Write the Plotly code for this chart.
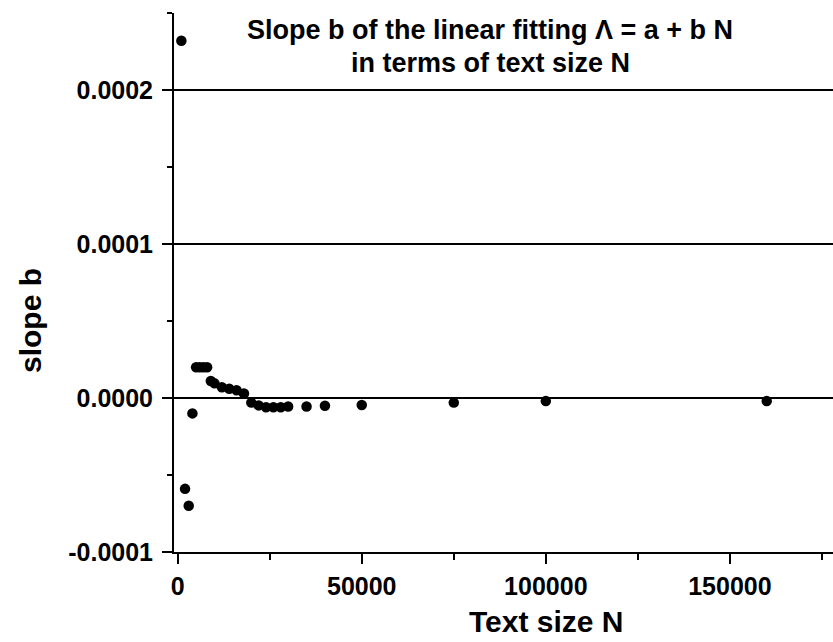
import plotly.graph_objects as go

# Data
text_size_N = [1000, 2000, 3000, 4000, 5000, 6000, 7000, 8000, 9000, 10000,
               12000, 14000, 16000, 18000, 20000, 22000, 24000, 26000, 28000,
               30000, 35000, 40000, 50000, 75000, 100000, 160000]
slope_b = [0.000232, -0.000059, -0.000070, -0.000010, 0.000020, 0.000020,
           0.000020, 0.000020, 0.000011, 0.0000095, 0.000007, 0.000006,
           0.000005, 0.000003, -0.000003, -0.0000048, -0.000006, -0.000006,
           -0.000006, -0.0000055, -0.0000055, -0.000005, -0.0000045,
           -0.000003, -0.000002, -0.000002]

x_tick_vals = [0, 50000, 100000, 150000]
x_tick_labels = ["0", "50000", "100000", "150000"]
y_tick_vals = [-0.0001, 0.0, 0.0001, 0.0002]
y_tick_labels = ["-0.0001", "0.0000", "0.0001", "0.0002"]

title_lines = ["Slope b of the linear fitting Λ = a + b N", "in terms of text size N"]
x_title = "Text size N"
y_title = "slope b"

FONT = "Liberation Sans, Arial, sans-serif"
W, H = 833, 642
ML, MR, MT, MB = 174, 0, 13, 90
PW, PH = W - ML - MR, H - MT - MB


def px_to_paper(px, py):
    return (px - ML) / PW, (H - MB - py) / PH


fig = go.Figure()
fig.add_trace(go.Scatter(
    x=text_size_N, y=slope_b, mode="markers",
    marker=dict(color="black", size=10.5, line=dict(width=0)),
    showlegend=False, hoverinfo="x+y"))

fig.update_layout(
    width=W, height=H,
    margin=dict(l=ML, r=MR, t=MT, b=MB, pad=0),
    paper_bgcolor="white", plot_bgcolor="white",
    font=dict(family=FONT, color="black", size=17),
    showlegend=False,
)

fig.update_xaxes(
    range=[-1000, 178000],
    tickvals=x_tick_vals, ticktext=x_tick_labels,
    ticks="outside", ticklen=10, tickwidth=2, tickcolor="black",
    minor=dict(dtick=25000, tick0=0, ticks="outside", ticklen=6,
               tickwidth=2, tickcolor="black", showgrid=False),
    showline=True, linecolor="black", linewidth=2,
    showgrid=False, zeroline=False,
    ticklabelstandoff=1,
    tickfont=dict(family=FONT, size=25, color="black", weight="bold"),
)

fig.update_yaxes(
    range=[-0.0001, 0.00025],
    tickvals=y_tick_vals, ticktext=y_tick_labels,
    ticks="outside", ticklen=10, tickwidth=2, tickcolor="black",
    minor=dict(dtick=0.00005, tick0=0, ticks="outside", ticklen=5,
               tickwidth=2, tickcolor="black", showgrid=False),
    showline=True, linecolor="black", linewidth=2,
    showgrid=True, gridcolor="black", gridwidth=2,
    zeroline=False,
    ticklabelstandoff=4,
    tickfont=dict(family=FONT, size=25, color="black", weight="bold"),
)

# Two-line title inside the plot area
for line, py in zip(title_lines, [30, 63]):
    ax, ay = px_to_paper(490, py)
    fig.add_annotation(
        text=line, xref="paper", yref="paper", x=ax, y=ay,
        xanchor="center", yanchor="middle", showarrow=False,
        font=dict(family=FONT, size=27, color="black", weight="bold"),
    )

# X-axis title
ax, ay = px_to_paper(546, 621)
fig.add_annotation(
    text=x_title, xref="paper", yref="paper", x=ax, y=ay,
    xanchor="center", yanchor="middle", showarrow=False,
    font=dict(family=FONT, size=30, color="black", weight="bold"),
)

# Y-axis title
ax, ay = px_to_paper(30, 321)
fig.add_annotation(
    text=y_title, xref="paper", yref="paper", x=ax, y=ay,
    xanchor="center", yanchor="middle", textangle=-90, showarrow=False,
    font=dict(family=FONT, size=30, color="black", weight="bold"),
)

fig.write_html("out.html")
